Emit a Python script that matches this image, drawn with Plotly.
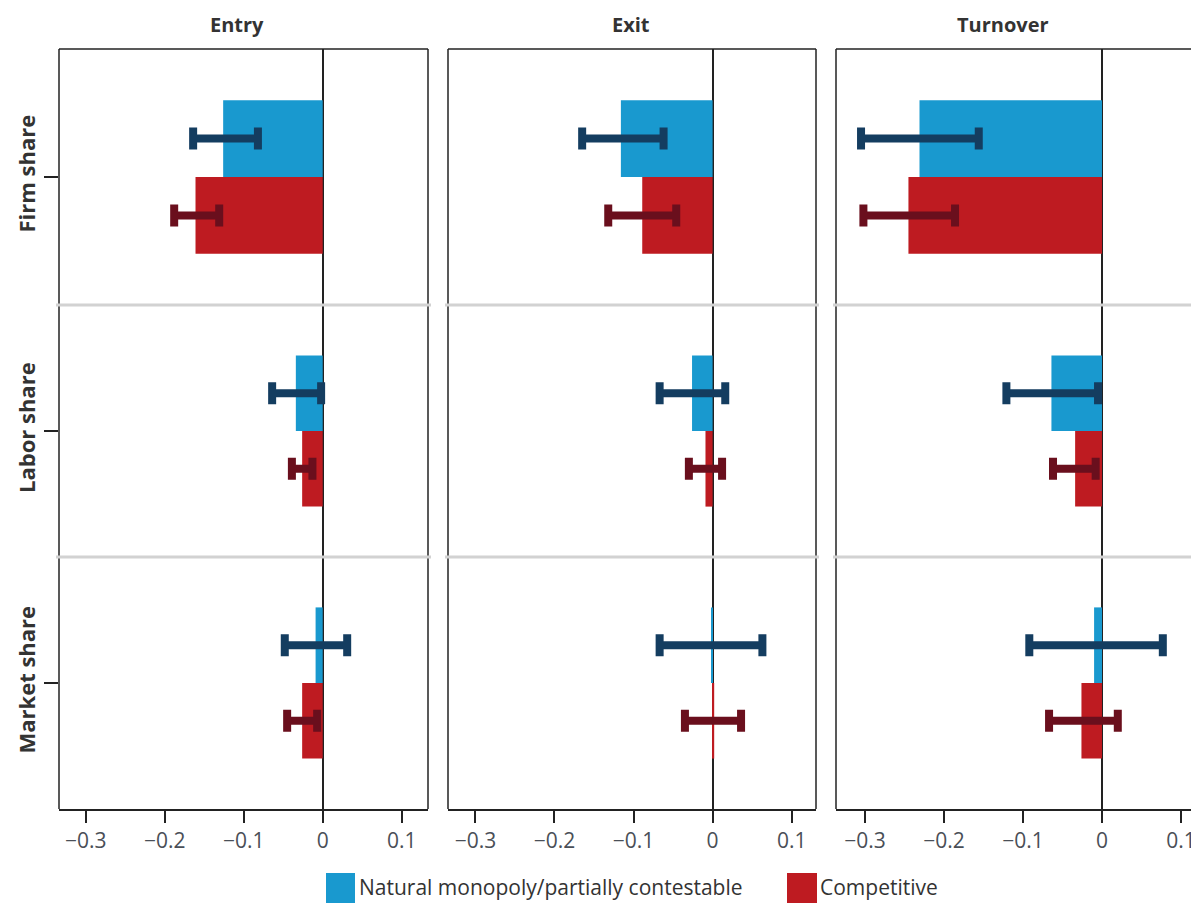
import plotly.graph_objects as go
from plotly.subplots import make_subplots

# ---------------- data ----------------
measures = ["Entry", "Exit", "Turnover"]
shares = ["Firm share", "Labor share", "Market share"]

# Natural monopoly / partially contestable: estimate, CI low, CI high
# rows = measures (Entry, Exit, Turnover); columns = shares (Firm, Labor, Market)
nat_est = [[-0.126, -0.034, -0.009],
           [-0.116, -0.026, -0.002],
           [-0.231, -0.064, -0.010]]
nat_low = [[-0.164, -0.064, -0.048],
           [-0.165, -0.067, -0.067],
           [-0.305, -0.121, -0.092]]
nat_high = [[-0.082, -0.002, 0.031],
            [-0.062, 0.016, 0.063],
            [-0.156, -0.005, 0.077]]

# Competitive
comp_est = [[-0.161, -0.026, -0.026],
            [-0.089, -0.009, 0.002],
            [-0.245, -0.034, -0.026]]
comp_low = [[-0.188, -0.039, -0.045],
            [-0.132, -0.030, -0.035],
            [-0.302, -0.062, -0.067]]
comp_high = [[-0.131, -0.013, -0.007],
             [-0.046, 0.012, 0.036],
             [-0.186, -0.008, 0.020]]

tick_vals = [-0.3, -0.2, -0.1, 0, 0.1]
tick_text = ["\u22120.3", "\u22120.2", "\u22120.1", "0", "0.1"]

legend_names = ["Natural monopoly/partially contestable", "Competitive"]

# ---------------- style ----------------
OFF = 8  # page body margin
W, H = 1199 - OFF, 903 - OFF
BLUE = "#1999cf"
RED = "#be1b21"
BLUE_ERR = "#143d60"
RED_ERR = "#6a0f1d"
FONT = "Open Sans"
TXT = "#333333"
TICK_TXT = "#4a4f57"
FS = 21

def px(x):
    return (x - OFF) / W

def py(y):
    return 1 - (y - OFF) / H

col_px = [(59, 428), (448, 816), (836, 1199)]
col_range = [(-0.3338, 0.1333), (-0.3347, 0.1308), (-0.3367, 0.1228)]
row_px = [(49, 305), (305, 557), (557, 809)]

fig = make_subplots(rows=3, cols=3, horizontal_spacing=0.02, vertical_spacing=0.0)

for c in range(3):
    for r in range(3):
        fig.add_trace(go.Bar(
            y=[shares[r]], x=[nat_est[c][r]], orientation="h",
            marker=dict(color=BLUE, line=dict(width=0)),
            error_x=dict(type="data", symmetric=False,
                         array=[nat_high[c][r] - nat_est[c][r]],
                         arrayminus=[nat_est[c][r] - nat_low[c][r]],
                         color=BLUE_ERR, thickness=8, width=11),
            name=legend_names[0], showlegend=False,
        ), row=r + 1, col=c + 1)
        fig.add_trace(go.Bar(
            y=[shares[r]], x=[comp_est[c][r]], orientation="h",
            marker=dict(color=RED, line=dict(width=0)),
            error_x=dict(type="data", symmetric=False,
                         array=[comp_high[c][r] - comp_est[c][r]],
                         arrayminus=[comp_est[c][r] - comp_low[c][r]],
                         color=RED_ERR, thickness=8, width=11),
            name=legend_names[1], showlegend=False,
        ), row=r + 1, col=c + 1)

        xa = dict(domain=[px(col_px[c][0]), px(col_px[c][1])],
                  range=list(col_range[c]), showgrid=False,
                  zeroline=True, zerolinecolor="#222222", zerolinewidth=1.5,
                  tickvals=tick_vals, ticktext=tick_text)
        if r == 2:
            xa.update(showline=True, linecolor="#222222", linewidth=1.5,
                      ticks="outside", ticklen=12, tickwidth=1.5, tickcolor="#222222",
                      showticklabels=True,
                      tickfont=dict(family=FONT, size=FS, color=TICK_TXT))
        else:
            xa.update(showline=False, ticks="", showticklabels=False)
        fig.update_xaxes(row=r + 1, col=c + 1, **xa)

        ya = dict(domain=[py(row_px[r][1]), py(row_px[r][0])],
                  autorange="reversed", showgrid=False, zeroline=False,
                  showline=False)
        if c == 0:
            ya.update(ticks="outside", ticklen=14, tickwidth=1.5, tickcolor="#222222",
                      showticklabels=True, tickangle=-90,
                      tickfont=dict(family=FONT, size=22, color=TXT, weight="bold"))
        else:
            ya.update(ticks="", showticklabels=False)
        fig.update_yaxes(row=r + 1, col=c + 1, **ya)

shapes = []
for c in range(3):
    x0, x1 = col_px[c]
    # left / right borders
    shapes.append(dict(type="line", xref="paper", yref="paper",
                       x0=px(x0), x1=px(x0), y0=py(49), y1=py(809),
                       line=dict(color="#222222", width=1.5)))
    if c < 2:
        shapes.append(dict(type="line", xref="paper", yref="paper",
                           x0=px(x1), x1=px(x1), y0=py(49), y1=py(809),
                           line=dict(color="#222222", width=1.5)))
    # top border
    shapes.append(dict(type="line", xref="paper", yref="paper",
                       x0=px(x0), x1=px(x1), y0=py(49), y1=py(49),
                       line=dict(color="#222222", width=1.5)))
    # row separators
    for yy in (305, 557):
        shapes.append(dict(type="line", xref="paper", yref="paper",
                           x0=px(x0 - 3), x1=px(min(x1 + 3, 1199)), y0=py(yy), y1=py(yy),
                           line=dict(color="#d2d2d2", width=3)))

# legend swatches
shapes.append(dict(type="rect", xref="paper", yref="paper",
                   x0=px(326), x1=px(355), y0=py(903), y1=py(873),
                   fillcolor=BLUE, line=dict(width=0)))
shapes.append(dict(type="rect", xref="paper", yref="paper",
                   x0=px(787), x1=px(817), y0=py(903), y1=py(873),
                   fillcolor=RED, line=dict(width=0)))

annotations = []
title_x = [237, 631, 1003]
for c in range(3):
    annotations.append(dict(text=f"<b>{measures[c]}</b>", xref="paper", yref="paper",
                            x=px(title_x[c]), y=py(9), xanchor="center", yanchor="top",
                            showarrow=False, font=dict(family=FONT, size=20, color=TXT)))
annotations.append(dict(text=legend_names[0], xref="paper", yref="paper",
                        x=px(357), y=py(887), xanchor="left", yanchor="middle",
                        showarrow=False, font=dict(family=FONT, size=FS, color=TXT)))
annotations.append(dict(text=legend_names[1], xref="paper", yref="paper",
                        x=px(818), y=py(887), xanchor="left", yanchor="middle",
                        showarrow=False, font=dict(family=FONT, size=FS, color=TXT)))

fig.update_layout(
    width=W, height=H,
    margin=dict(l=0, r=0, t=0, b=0),
    paper_bgcolor="white", plot_bgcolor="white",
    barmode="group", bargap=0.4, bargroupgap=0,
    shapes=shapes, annotations=annotations,
    showlegend=False,
)

fig.write_html("out.html")
